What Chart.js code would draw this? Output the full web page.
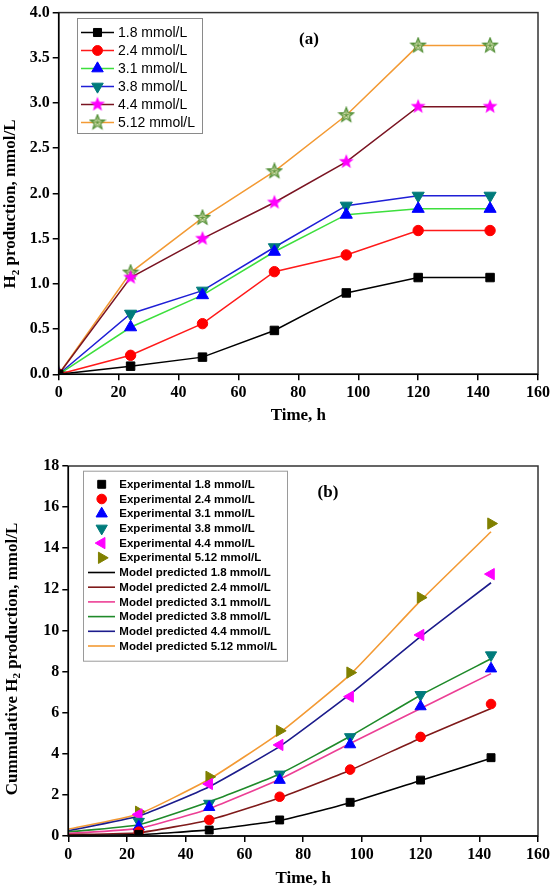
<!DOCTYPE html>
<html><head><meta charset="utf-8">
<script src="https://cdn.jsdelivr.net/npm/chart.js@4.4.0/dist/chart.umd.min.js"></script>
<style>
html,body{margin:0;padding:0;background:#fff;}
body{width:553px;height:887px;position:relative;overflow:hidden;}
#wa{position:absolute;left:0;top:0;width:553px;height:440px;}
#wb{position:absolute;left:0;top:445px;width:553px;height:442px;}
</style></head><body>
<div id="wa"><canvas id="ca"></canvas></div>
<div id="wb"><canvas id="cb"></canvas></div>
<script>
// ---------- data: panel (a) ----------
const timeA = [0, 24, 48, 72, 96, 120, 144];
const labelsA = ['1.8 mmol/L', '2.4 mmol/L', '3.1 mmol/L', '3.8 mmol/L', '4.4 mmol/L', '5.12 mmol/L'];
const a18  = [0, 0.09, 0.19, 0.485, 0.90, 1.07, 1.07];
const a24  = [0, 0.21, 0.56, 1.135, 1.32, 1.59, 1.59];
const a31  = [0, 0.52, 0.875, 1.355, 1.765, 1.83, 1.83];
const a38  = [0, 0.67, 0.925, 1.405, 1.865, 1.975, 1.975];
const a44  = [0, 1.07, 1.50, 1.90, 2.35, 2.96, 2.96];
const a512 = [0, 1.125, 1.73, 2.245, 2.865, 3.635, 3.635];

// ---------- data: panel (b) ----------
const timeExp = [24, 48, 72, 96, 120, 144];
const timeModel = [0, 24, 48, 72, 96, 120, 144];
const labelsExp = ['Experimental 1.8 mmol/L', 'Experimental 2.4 mmol/L', 'Experimental 3.1 mmol/L',
                   'Experimental 3.8 mmol/L', 'Experimental 4.4 mmol/L', 'Experimental 5.12 mmol/L'];
const labelsModel = ['Model predicted 1.8 mmol/L', 'Model predicted 2.4 mmol/L', 'Model predicted 3.1 mmol/L',
                     'Model predicted 3.8 mmol/L', 'Model predicted 4.4 mmol/L', 'Model predicted 5.12 mmol/L'];
const e18  = [0.08, 0.29, 0.78, 1.64, 2.72, 3.81];
const e24  = [0.21, 0.78, 1.91, 3.23, 4.82, 6.42];
const e31  = [0.45, 1.40, 2.72, 4.45, 6.30, 8.14];
const e38  = [0.70, 1.58, 3.00, 4.82, 6.87, 8.80];
const e44  = [1.05, 2.53, 4.43, 6.78, 9.78, 12.74];
const e512 = [1.18, 2.88, 5.12, 7.95, 11.60, 15.20];
const m18  = [0.02, 0.07, 0.30, 0.75, 1.62, 2.70, 3.78];
const m24  = [0.07, 0.16, 0.78, 1.86, 3.20, 4.76, 6.20];
const m31  = [0.12, 0.37, 1.33, 2.76, 4.50, 6.20, 7.90];
const m38  = [0.20, 0.55, 1.67, 3.02, 4.85, 6.85, 8.62];
const m44  = [0.25, 0.97, 2.40, 4.36, 6.90, 9.70, 12.32];
const m512 = [0.33, 1.07, 2.76, 5.02, 7.85, 11.45, 14.80];

// ---------- helpers ----------
const SERIF = "'Liberation Serif','Times New Roman',serif";
const SANS = "'Liberation Sans',Arial,sans-serif";
const pts = (xs, ys) => xs.map((x, i) => ({x, y: ys[i]}));

function starImage(size, outer, inner, fill, stroke, spokes) {
  const c = document.createElement('canvas');
  c.width = size; c.height = size;
  const g = c.getContext('2d');
  const cx = size / 2, cy = size / 2;
  g.beginPath();
  for (let k = 0; k < 10; k++) {
    const r = k % 2 === 0 ? outer : inner;
    const a = -Math.PI / 2 + k * Math.PI / 5;
    const px = cx + r * Math.cos(a), py = cy + r * Math.sin(a);
    k === 0 ? g.moveTo(px, py) : g.lineTo(px, py);
  }
  g.closePath();
  if (fill) { g.fillStyle = fill; g.fill(); }
  if (stroke) { g.strokeStyle = stroke; g.lineWidth = 1.1; g.stroke(); }
  if (spokes) {
    g.beginPath();
    for (let k = 0; k < 5; k++) {
      const a = -Math.PI / 2 + k * 2 * Math.PI / 5;
      g.moveTo(cx, cy); g.lineTo(cx + outer * 0.75 * Math.cos(a), cy + outer * 0.75 * Math.sin(a));
    }
    g.strokeStyle = stroke; g.lineWidth = 0.9; g.stroke();
  }
  return c;
}
const magentaStar = starImage(18, 7.8, 3.3, '#ff00ff', null, false);
const greenStar = starImage(18, 7.8, 3.4, 'rgba(215,225,170,0.85)', '#4a8a2e', true);

// ---------- plugins ----------
const frame = {
  id: 'frame',
  afterDatasetsDraw(chart) {
    const {left, top, right, bottom} = chart.chartArea;
    const ctx = chart.ctx;
    ctx.save();
    ctx.strokeStyle = '#333'; ctx.lineWidth = 1.5;
    ctx.strokeRect(left, top, right - left, bottom - top);
    ctx.strokeStyle = '#000';
    ctx.beginPath(); ctx.moveTo(left, top); ctx.lineTo(left, bottom); ctx.lineTo(right, bottom); ctx.stroke();
    ctx.restore();
  }
};
const boxLegend = {
  id: 'boxLegend',
  afterDraw(chart, args, o) {
    const ctx = chart.ctx;
    ctx.save();
    ctx.fillStyle = '#fff';
    ctx.fillRect(o.x, o.y, o.w, o.h);
    ctx.strokeStyle = o.borderColor; ctx.lineWidth = 1;
    ctx.strokeRect(o.x + 0.5, o.y + 0.5, o.w, o.h);
    ctx.font = o.font; ctx.textBaseline = 'middle'; ctx.textAlign = 'left';
    chart.data.datasets.forEach((ds, i) => {
      const cy = o.firstY + i * o.rowH;
      if (ds.showLine !== false) {
        ctx.strokeStyle = ds.borderColor; ctx.lineWidth = ds.borderWidth;
        ctx.beginPath(); ctx.moveTo(o.lineX0, cy); ctx.lineTo(o.lineX1, cy); ctx.stroke();
      }
      if (ds.pointRadius > 0) {
        ctx.fillStyle = ds.pointBackgroundColor; ctx.strokeStyle = ds.pointBorderColor;
        ctx.lineWidth = ds.pointBorderWidth || 1;
        Chart.helpers.drawPoint(ctx, {pointStyle: ds.pointStyle, rotation: ds.pointRotation || 0,
          radius: ds.pointRadius * o.markScale, borderWidth: ds.pointBorderWidth || 1}, o.markX, cy);
      }
      ctx.fillStyle = '#000';
      ctx.fillText(ds.label, o.textX, cy + 0.5);
    });
    ctx.restore();
  }
};
const textMarks = {
  id: 'textMarks',
  afterDraw(chart, args, o) {
    const ctx = chart.ctx;
    ctx.save();
    ctx.fillStyle = '#000';
    ctx.font = o.tagFont; ctx.textAlign = 'center'; ctx.textBaseline = 'middle';
    ctx.fillText(o.tag, o.tagX, o.tagY);
    ctx.translate(o.yTitleX, o.yTitleY);
    ctx.rotate(-Math.PI / 2);
    ctx.textAlign = 'left'; ctx.textBaseline = 'middle';
    const big = o.yFont, small = o.ySubFont;
    let total = 0;
    o.yParts.forEach(p => { ctx.font = p.sub ? small : big; total += ctx.measureText(p.t).width; });
    let x = -total / 2;
    o.yParts.forEach(p => {
      ctx.font = p.sub ? small : big;
      ctx.fillText(p.t, x, p.sub ? 5 : 0);
      x += ctx.measureText(p.t).width;
    });
    ctx.restore();
  }
};

function axes(yMax, yStep, yDec, yWidth, xHeight, xTitlePad) {
  const tickFont = {family: SERIF, size: 16, weight: 'bold'};
  const grid = {drawOnChartArea: false, drawTicks: true, tickLength: 6, color: '#000', lineWidth: 1.5};
  return {
    x: {
      type: 'linear', min: 0, max: 160,
      ticks: {stepSize: 20, color: '#000', font: tickFont, padding: 3, maxRotation: 0, autoSkip: false},
      grid, border: {display: false},
      title: {display: true, text: 'Time, h', color: '#000',
              font: {family: SERIF, size: 17, weight: 'bold', lineHeight: 1}, padding: {top: 0, bottom: xTitlePad}},
      afterFit: s => { s.height = xHeight; }
    },
    y: {
      type: 'linear', min: 0, max: yMax,
      ticks: {stepSize: yStep, color: '#000', font: tickFont, padding: 3,
              callback: v => v.toFixed(yDec)},
      grid, border: {display: false},
      afterFit: s => { s.width = yWidth; }
    }
  };
}

// ---------- chart (a) ----------
const lineW = 1.5;
const styleA = [
  {line: '#000000', fill: '#000000', ps: 'rect', r: 6, rot: 0},
  {line: '#ff1a1a', fill: '#ff0000', ps: 'circle', r: 5.2, rot: 0},
  {line: '#3ddf3d', fill: '#0000ff', ps: 'triangle', r: 7, rot: 0},
  {line: '#1f1fd6', fill: '#007b7b', ps: 'triangle', r: 7, rot: 180},
  {line: '#7a1422', fill: '#ff00ff', ps: magentaStar, r: 7, rot: 0},
  {line: '#f39a34', fill: '#4a8a2e', ps: greenStar, r: 7, rot: 0}
];
const seriesA = [a18, a24, a31, a38, a44, a512];
new Chart(document.getElementById('ca'), {
  type: 'line',
  data: {
    datasets: seriesA.map((ys, i) => ({
      label: labelsA[i], data: pts(timeA, ys),
      borderColor: styleA[i].line, borderWidth: lineW, tension: 0,
      pointStyle: styleA[i].ps, pointRotation: styleA[i].rot, pointRadius: styleA[i].r,
      pointBackgroundColor: styleA[i].fill, pointBorderColor: styleA[i].fill, pointBorderWidth: 1,
      clip: 0
    }))
  },
  options: {
    responsive: true, maintainAspectRatio: false, animation: false,
    layout: {padding: {top: 9.3, right: 12, bottom: 0, left: 0}},
    scales: axes(4, 0.5, 1, 58.7, 65.7, 15.5),
    plugins: {
      legend: {display: false}, tooltip: {enabled: false},
      boxLegend: {x: 77, y: 18, w: 125, h: 115, borderColor: '#8a8a8a', font: '14px ' + SANS,
                  firstY: 32.5, rowH: 18, lineX0: 81, lineX1: 114, markX: 97.5, textX: 118, markScale: 0.95},
      textMarks: {tag: '(a)', tagX: 309, tagY: 40, tagFont: 'bold 17px ' + SERIF,
                  yTitleX: 11, yTitleY: 204, yFont: 'bold 17px ' + SERIF, ySubFont: 'bold 11px ' + SERIF,
                  yParts: [{t: 'H'}, {t: '2', sub: true}, {t: ' production, mmol/L'}]}
    }
  },
  plugins: [frame, boxLegend, textMarks]
});

// ---------- chart (b) ----------
const expStyle = [
  {c: '#000000', ps: 'rect', r: 5.6, rot: 0},
  {c: '#ff0000', ps: 'circle', r: 4.8, rot: 0},
  {c: '#0000ff', ps: 'triangle', r: 6.5, rot: 0},
  {c: '#007b7b', ps: 'triangle', r: 6.5, rot: 180},
  {c: '#ff00ff', ps: 'triangle', r: 6.5, rot: -90},
  {c: '#808000', ps: 'triangle', r: 6.5, rot: 90}
];
const modelColors = ['#000000', '#7f1a1a', '#ec3f95', '#1f8a2a', '#1c1c8c', '#f39a34'];
const expSeries = [e18, e24, e31, e38, e44, e512];
const modelSeries = [m18, m24, m31, m38, m44, m512];
const dsB = [];
expSeries.forEach((ys, i) => dsB.push({
  label: labelsExp[i], data: pts(timeExp, ys), showLine: false,
  borderColor: expStyle[i].c, borderWidth: 0,
  pointStyle: expStyle[i].ps, pointRotation: expStyle[i].rot, pointRadius: expStyle[i].r,
  pointBackgroundColor: expStyle[i].c, pointBorderColor: expStyle[i].c, pointBorderWidth: 1,
  order: 1
}));
modelSeries.forEach((ys, i) => dsB.push({
  label: labelsModel[i], data: pts(timeModel, ys),
  borderColor: modelColors[i], borderWidth: 1.6, tension: 0.15, pointRadius: 0,
  order: 2
}));
new Chart(document.getElementById('cb'), {
  type: 'line',
  data: {datasets: dsB},
  options: {
    responsive: true, maintainAspectRatio: false, animation: false,
    layout: {padding: {top: 21, right: 10.7, bottom: 0, left: 0}},
    scales: axes(18, 2, 0, 68.3, 51, 0),
    plugins: {
      legend: {display: false}, tooltip: {enabled: false},
      boxLegend: {x: 83, y: 25.7, w: 204, h: 190, borderColor: '#9a9a9a', font: 'bold 11.5px ' + SANS,
                  firstY: 39.3, rowH: 14.7, lineX0: 88, lineX1: 115, markX: 101.7, textX: 119.3, markScale: 1.0},
      textMarks: {tag: '(b)', tagX: 328, tagY: 48, tagFont: 'bold 17px ' + SERIF,
                  yTitleX: 12.5, yTitleY: 214, yFont: 'bold 17px ' + SERIF, ySubFont: 'bold 11px ' + SERIF,
                  yParts: [{t: 'Cummulative H'}, {t: '2', sub: true}, {t: ' production, mmol/L'}]}
    }
  },
  plugins: [frame, boxLegend, textMarks]
});
</script>
</body></html>
